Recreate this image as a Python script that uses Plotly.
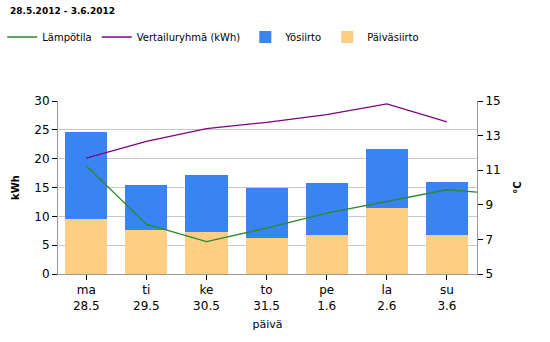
import plotly.graph_objects as go

days = ["ma", "ti", "ke", "to", "pe", "la", "su"]
dates = ["28.5", "29.5", "30.5", "31.5", "1.6", "2.6", "3.6"]
paiva = [9.6, 7.65, 7.2, 6.3, 6.8, 11.5, 6.7]
yo = [15.1, 7.85, 10.0, 8.65, 9.0, 10.1, 9.3]
vertailu = [20.1, 23.0, 25.2, 26.3, 27.65, 29.5, 26.4]
lampotila = [11.26, 7.88, 6.87, 7.65, 8.52, 9.19, 9.87, 9.6]

xs = list(range(len(days)))
xs_t = list(range(len(lampotila)))
ticktext = [f"{d}<br>{t}" for d, t in zip(days, dates)]

FONT = "DejaVu Sans"
fig = go.Figure()
fig.add_trace(go.Bar(x=xs, y=paiva, name="Päiväsiirto", marker=dict(color="#FFCE85", line=dict(width=0)),
                     width=0.7, legendrank=4))
fig.add_trace(go.Bar(x=xs, y=yo, name="Yösiirto", marker=dict(color="#3A83F2", line=dict(width=0)),
                     width=0.7, legendrank=3))
fig.add_trace(go.Scatter(x=xs, y=vertailu, name="Vertailuryhmä (kWh)", mode="lines",
                         line=dict(color="#800080", width=1.3), legendrank=2))
fig.add_trace(go.Scatter(x=xs_t, y=lampotila, name="Lämpötila", mode="lines", yaxis="y2",
                         line=dict(color="#2A8A2A", width=1.3), legendrank=1))

fig.update_layout(
    width=550, height=342,
    barmode="stack",
    plot_bgcolor="white", paper_bgcolor="white",
    margin=dict(l=58, r=73, t=101, b=68),
    font=dict(family=FONT, size=12, color="#000"),
    showlegend=True,
    legend=dict(orientation="h", x=0.004, xref="container", y=1 - 37 / 342, yref="container",
                yanchor="middle", xanchor="left", font=dict(size=10), itemwidth=30,
                traceorder="normal", bgcolor="rgba(0,0,0,0)"),
    annotations=[dict(text="<b>28.5.2012 - 3.6.2012</b>", x=-0.119, y=1.56, xref="paper", yref="paper",
                      xanchor="left", yanchor="top", showarrow=False, font=dict(size=9))],
    xaxis=dict(range=[-0.47, 6.5], tickvals=xs, ticktext=ticktext, showgrid=False,
               showline=True, linecolor="#999", ticks="outside", ticklen=5, tickcolor="#000",
               title=dict(text="päivä", font=dict(size=11), standoff=8), tickfont=dict(size=12)),
    yaxis=dict(range=[0, 30], dtick=5, showgrid=True, gridcolor="#C8C8C8", showline=True,
               linecolor="#999", ticks="outside", ticklen=5, tickcolor="#000", zeroline=False,
               title=dict(text="<b>kWh</b>", font=dict(size=10), standoff=12)),
    yaxis2=dict(range=[5, 15], tick0=5, dtick=2, overlaying="y", side="right", showgrid=False,
                showline=True, linecolor="#999", ticks="outside", ticklen=5, tickcolor="#000",
                zeroline=False, title=dict(text="<b>°C</b>", font=dict(size=10), standoff=14)),
)
fig.write_html("out.html")
